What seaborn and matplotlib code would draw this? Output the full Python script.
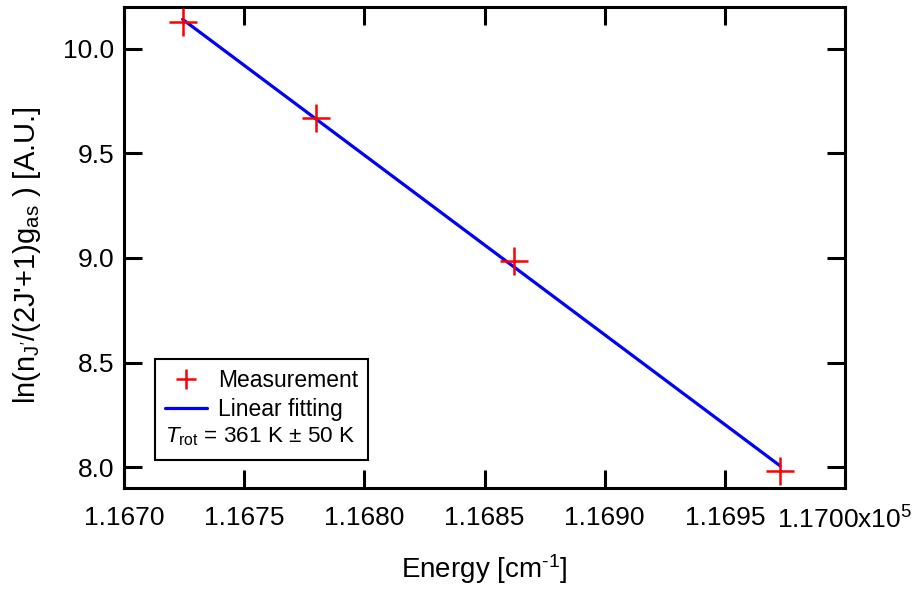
import numpy as np
import pandas as pd
import matplotlib
matplotlib.use("Agg")
import matplotlib.pyplot as plt
from matplotlib.lines import Line2D
from matplotlib.ticker import FixedLocator, FixedFormatter
import seaborn as sns

# ---- data ----
energy = [116724.4, 116779.9, 116862.4, 116973.0]
ln_pop = [10.128, 9.668, 8.987, 7.982]
fit_energy = [116724.4, 116973.0]
fit_values = [10.141, 8.006]
xtick_values = [116700, 116750, 116800, 116850, 116900, 116950, 117000]
xtick_labels = ["1.1670", "1.1675", "1.1680", "1.1685", "1.1690", "1.1695",
                r"1.1700x10$^{\mathregular{5}}$"]
ytick_values = [8.0, 8.5, 9.0, 9.5, 10.0]
ytick_labels = ["8.0", "8.5", "9.0", "9.5", "10.0"]
legend_labels = ["Measurement", "Linear fitting"]
trot_text = r"$T_{\mathregular{rot}}$ = 361 K ± 50 K"

sns.set_style("ticks")
plt.rcParams["font.family"] = ["Liberation Sans", "DejaVu Sans"]
plt.rcParams["mathtext.fontset"] = "custom"
plt.rcParams["mathtext.rm"] = "Liberation Sans"
plt.rcParams["mathtext.it"] = "Liberation Sans:italic"
plt.rcParams["mathtext.bf"] = "Liberation Sans:bold"
for k in ["text.color", "axes.labelcolor", "xtick.color", "ytick.color",
          "axes.edgecolor"]:
    plt.rcParams[k] = "black"

fig = plt.figure(figsize=(9.2, 5.92), dpi=100)
ax = fig.add_axes([124 / 920, 1 - 488 / 592, (845 - 124) / 920, (488 - 7) / 592])

meas = pd.DataFrame({"energy": energy, "val": ln_pop})
fit = pd.DataFrame({"energy": fit_energy, "val": fit_values})

sns.lineplot(data=fit, x="energy", y="val", ax=ax, color="#0000ff", linewidth=2.3,
             zorder=2)
ax.plot(meas["energy"], meas["val"], linestyle="none", marker="+", color="#ff0000",
        markersize=20, markeredgewidth=1.8, zorder=3)

ax.set_xlim(116700, 117000)
ax.set_ylim(7.9, 10.2)
ax.xaxis.set_major_locator(FixedLocator(xtick_values))
ax.xaxis.set_major_formatter(FixedFormatter(xtick_labels))
ax.yaxis.set_major_locator(FixedLocator(ytick_values))
ax.yaxis.set_major_formatter(FixedFormatter(ytick_labels))

for s in ax.spines.values():
    s.set_visible(True)
    s.set_linewidth(2.2)
    s.set_color("black")
ax.tick_params(axis="both", which="major", direction="in", length=13, width=2.2,
               color="black", labelcolor="black", labelsize=19, top=True, right=True)
ax.tick_params(axis="x", pad=13)
ax.tick_params(axis="y", pad=7)

ax.set_xlabel(r"Energy [cm$^{\text{-1}}$]", fontsize=20)
ax.xaxis.set_label_coords(0.4993, -0.134)
ax.set_ylabel(r"ln(n$_{\mathregular{J'}}$/(2J'+1)g$_{\mathregular{as}}$ ) [A.U.]",
              fontsize=21)
ax.yaxis.set_label_coords(-0.113, 0.484)

handles = [
    Line2D([], [], linestyle="none", marker="+", color="#ff0000", markersize=15,
           markeredgewidth=1.8),
    Line2D([], [], color="#0000ff", linewidth=2.3),
    Line2D([], [], linestyle="none"),
]
leg = ax.legend(handles, legend_labels + [" "], loc="upper left",
                bbox_to_anchor=(0.043, 0.268), borderaxespad=0, fontsize=16.5,
                frameon=True, fancybox=False, framealpha=1, edgecolor="black",
                handlelength=1.8, handletextpad=0.5, labelspacing=0.25,
                borderpad=0.45)
leg.get_frame().set_linewidth(1.5)
leg.set_zorder(5)
ax.text(0.057, 0.106, trot_text, transform=ax.transAxes, fontsize=16.2,
        ha="left", va="center", zorder=6)

fig.savefig("out.png", dpi=100)
